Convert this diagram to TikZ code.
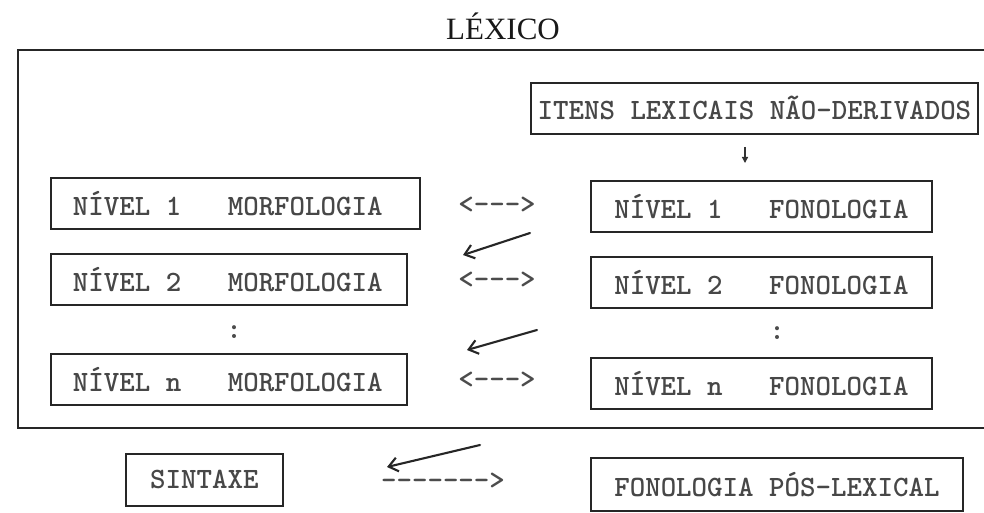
\documentclass[tikz,border=0pt]{standalone}
\usepackage{fontspec}
\setmainfont{Liberation Serif}
\usetikzlibrary{arrows.meta}
\newcommand\diagtt{\ttfamily\bfseries\fontsize{29.5}{32}\selectfont}
\begin{document}
\begin{tikzpicture}[x=1pt,y=-1pt,
  box/.style={draw=black!85, line width=1.8pt, minimum height=51pt, inner sep=0pt,
    font=\diagtt, text=black!72, anchor=north west},
  lbl/.style={font=\diagtt, text=black!70, inner sep=0pt},
  solidarr/.style={draw=black!85, line width=2.1pt, line cap=round,
    -{Straight Barb[length=9pt,width=14pt,line width=2.1pt]}},
  smallarr/.style={draw=black!80, line width=1.3pt,
    -{Triangle[length=6pt,width=6pt]}},
  frame/.style={draw=black!85, line width=2.2pt}
]
\useasboundingbox (0,0) rectangle (984,513);
\fill[white] (0,0) rectangle (984,513);

% title
\node[font=\fontsize{31}{34}\selectfont, text=black!90, inner sep=0pt] (title) at (503,26) {LÉXICO};

% frame of the lexicon
\draw[frame] (984,50) -- (18,50) -- (18,428) -- (984,428);

% top box
\node[box, minimum width=447pt] (it) at (530,82) {ITENS LEXICAIS NÃO-DERIVADOS};
\coordinate (d1) at (745,147);
\coordinate (d2) at (745,163);
\draw[smallarr] (d1) -- (d2);

% morphology column
\node[box, minimum width=369pt] (m1) at (50,177)
  {\makebox[325pt][l]{NÍVEL 1\ \ \ MORFOLOGIA}};
\node[box, minimum width=356pt] (m2) at (50,253)
  {\makebox[312pt][l]{NÍVEL 2\ \ \ MORFOLOGIA}};
\node[lbl] (mdots) at (234,332) {:};
\node[box, minimum width=356pt] (mn) at (50,353)
  {\makebox[312pt][l]{NÍVEL n\ \ \ MORFOLOGIA}};

% phonology column
\node[box, minimum width=341pt] (f1) at (590,180) {NÍVEL 1\ \ \ FONOLOGIA};
\node[box, minimum width=341pt] (f2) at (590,256) {NÍVEL 2\ \ \ FONOLOGIA};
\node[lbl] (fdots) at (777,333) {:};
\node[box, minimum width=341pt] (fn) at (590,357) {NÍVEL n\ \ \ FONOLOGIA};

% dashed two-way arrows (typed)
\node[lbl] (b1) at (497,205) {<--->};
\node[lbl] (b2) at (497,280) {<--->};
\node[lbl] (b3) at (497,380) {<--->};

% solid arrows
\coordinate (s1a) at (530,233);
\coordinate (s1b) at (463,255);
\coordinate (s2a) at (537,330);
\coordinate (s2b) at (467,350);
\draw[solidarr] (s1a) -- (s1b);
\draw[solidarr] (s2a) -- (s2b);

% bottom row
\node[box, minimum width=157pt, minimum height=52pt] (sx) at (125,453) {SINTAXE};
\node[box, minimum width=372pt, minimum height=53pt] (pl) at (590,457) {FONOLOGIA PÓS-LEXICAL};
\coordinate (s3a) at (480,445);
\coordinate (s3b) at (387,467);
\draw[solidarr] (s3a) -- (s3b);
\node[lbl] (b4) at (443,481) {------->};
\end{tikzpicture}
\end{document}
